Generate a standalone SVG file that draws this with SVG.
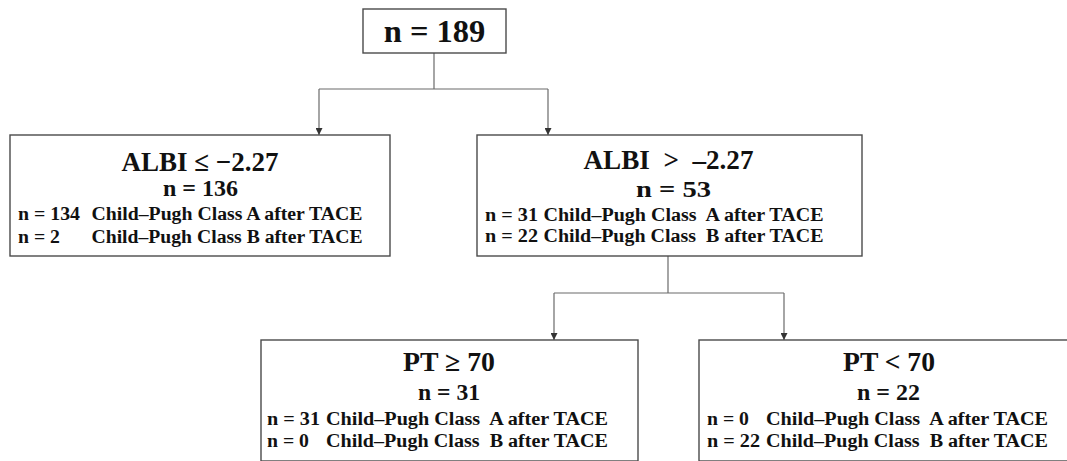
<svg xmlns="http://www.w3.org/2000/svg" width="1067" height="461" viewBox="0 0 1067 461">
<defs>
<style>
.box{fill:#fff;stroke:#4a4a4a;stroke-width:1.4}
.ln{fill:none;stroke:#6a6a6a;stroke-width:1.2}
.tx{font-family:"Liberation Serif","DejaVu Serif",serif;font-weight:bold;fill:#111}
.t0{font-size:32.5px}
.t1{font-size:27px}
.t2{font-size:24px}
.t3{font-size:19.8px}
.pre{white-space:pre}
</style>
<marker id="ar" viewBox="0 0 8 8" refX="8" refY="4" markerWidth="7" markerHeight="7" markerUnits="userSpaceOnUse" orient="auto">
<path d="M0,0 L8,4 L0,8 Z" fill="#333"/>
</marker>
</defs>
<g id="connectors">
<path class="ln" d="M434,53 V89"/>
<path class="ln" d="M319,89 H548"/>
<path class="ln" d="M319,89 V135" marker-end="url(#ar)"/>
<path class="ln" d="M548,89 V135" marker-end="url(#ar)"/>
<path class="ln" d="M668,256 V293"/>
<path class="ln" d="M554,293 H784"/>
<path class="ln" d="M554,293 V340" marker-end="url(#ar)"/>
<path class="ln" d="M784,293 V340" marker-end="url(#ar)"/>
</g>
<g id="root">
<rect class="box" x="363" y="9" width="143" height="44"/>
<text class="tx t0" x="434.5" y="42" text-anchor="middle">n = 189</text>
</g>
<g id="albi-low">
<rect class="box" x="10" y="135" width="380" height="121"/>
<text class="tx t1" x="200" y="171" text-anchor="middle">ALBI ≤ −2.27</text>
<text class="tx t2" x="163" y="196" textLength="75" lengthAdjust="spacingAndGlyphs">n = 136</text>
<text class="tx t3" x="18" y="220" textLength="62" lengthAdjust="spacingAndGlyphs">n = 134</text>
<text class="tx t3" x="91.5" y="220" textLength="271" lengthAdjust="spacingAndGlyphs">Child–Pugh Class A after TACE</text>
<text class="tx t3" x="18" y="243" textLength="42" lengthAdjust="spacingAndGlyphs">n = 2</text>
<text class="tx t3" x="91.5" y="243" textLength="271" lengthAdjust="spacingAndGlyphs">Child–Pugh Class B after TACE</text>
</g>
<g id="albi-high">
<rect class="box" x="477" y="135" width="385" height="121"/>
<text class="tx t1 pre" x="583.5" y="169" textLength="170" lengthAdjust="spacingAndGlyphs">ALBI  &gt;  –2.27</text>
<text class="tx t2" x="636" y="197" textLength="75" lengthAdjust="spacingAndGlyphs">n = 53</text>
<text class="tx t3" x="485" y="221" textLength="53" lengthAdjust="spacingAndGlyphs">n = 31</text>
<text class="tx t3 pre" x="543.5" y="221" textLength="280" lengthAdjust="spacingAndGlyphs">Child–Pugh Class  A after TACE</text>
<text class="tx t3" x="485" y="242" textLength="53" lengthAdjust="spacingAndGlyphs">n = 22</text>
<text class="tx t3 pre" x="543.5" y="242" textLength="280" lengthAdjust="spacingAndGlyphs">Child–Pugh Class  B after TACE</text>
</g>
<g id="pt-high">
<rect class="box" x="261" y="340" width="377" height="121"/>
<text class="tx t1" x="403" y="371" textLength="92" lengthAdjust="spacingAndGlyphs">PT ≥ 70</text>
<text class="tx t2" x="418" y="400" textLength="62" lengthAdjust="spacingAndGlyphs">n = 31</text>
<text class="tx t3" x="267" y="425" textLength="53" lengthAdjust="spacingAndGlyphs">n = 31</text>
<text class="tx t3 pre" x="326" y="425" textLength="282" lengthAdjust="spacingAndGlyphs">Child–Pugh Class  A after TACE</text>
<text class="tx t3" x="267" y="447" textLength="42" lengthAdjust="spacingAndGlyphs">n = 0</text>
<text class="tx t3 pre" x="326" y="447" textLength="282" lengthAdjust="spacingAndGlyphs">Child–Pugh Class  B after TACE</text>
</g>
<g id="pt-low">
<rect class="box" x="699" y="340" width="380" height="121"/>
<text class="tx t1" x="843" y="371" textLength="92" lengthAdjust="spacingAndGlyphs">PT &lt; 70</text>
<text class="tx t2" x="857" y="400" textLength="63" lengthAdjust="spacingAndGlyphs">n = 22</text>
<text class="tx t3" x="707" y="425" textLength="42" lengthAdjust="spacingAndGlyphs">n = 0</text>
<text class="tx t3 pre" x="766" y="425" textLength="282" lengthAdjust="spacingAndGlyphs">Child–Pugh Class  A after TACE</text>
<text class="tx t3" x="707" y="447" textLength="53" lengthAdjust="spacingAndGlyphs">n = 22</text>
<text class="tx t3 pre" x="766" y="447" textLength="282" lengthAdjust="spacingAndGlyphs">Child–Pugh Class  B after TACE</text>
</g>
</svg>
